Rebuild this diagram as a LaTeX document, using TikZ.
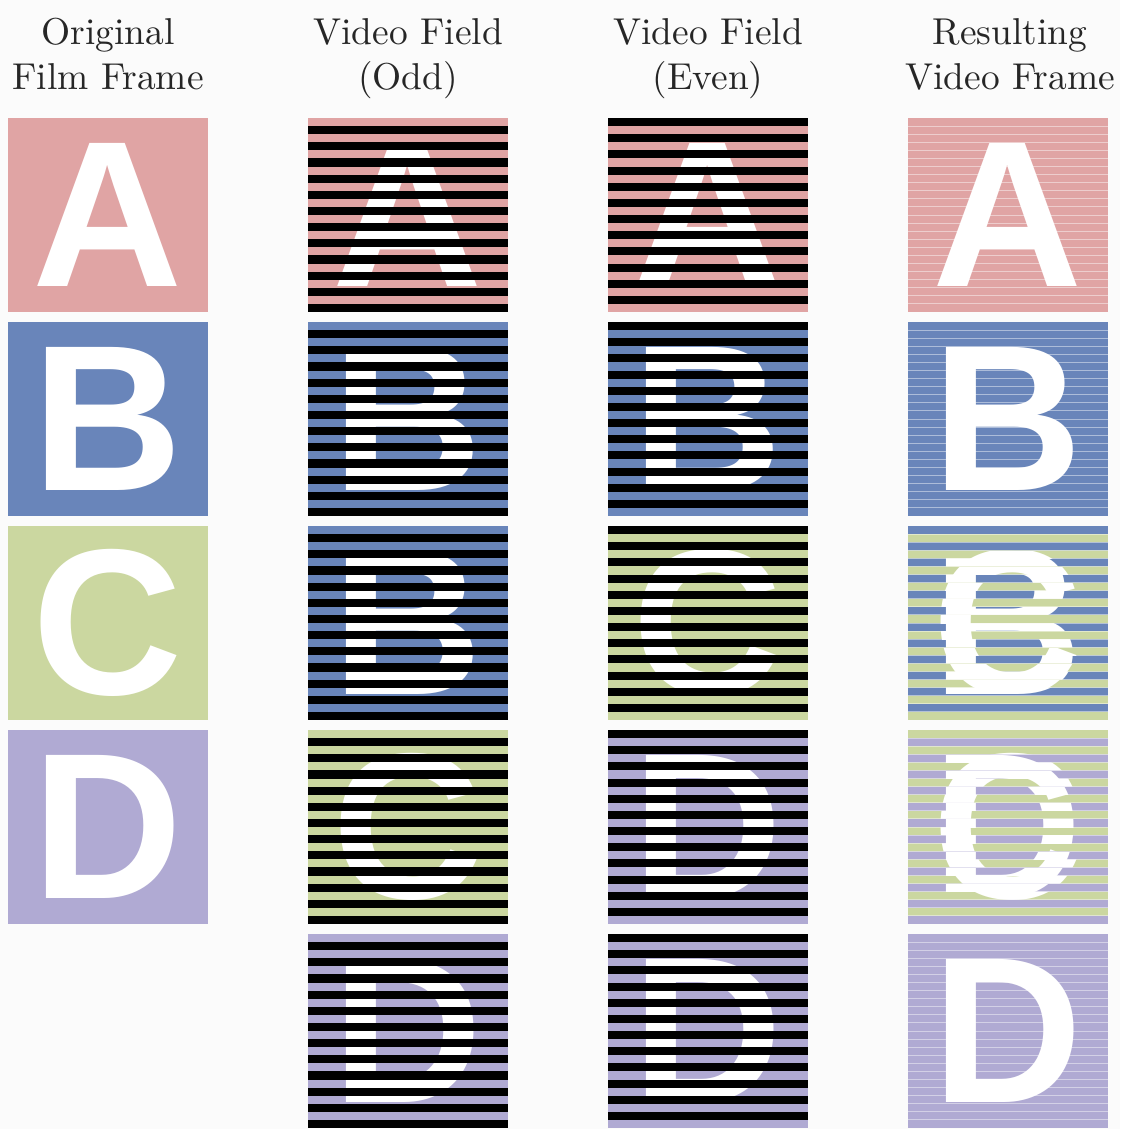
\documentclass[tikz,border=0pt]{standalone}
\usepackage{fontspec}
\newfontfamily\tilefont{Liberation Sans}
\definecolor{bgGray}{RGB}{251,251,251}
\definecolor{filmPink}{RGB}{224,164,164}
\definecolor{filmBlue}{RGB}{105,133,186}
\definecolor{filmGreen}{RGB}{203,215,160}
\definecolor{filmLilac}{RGB}{176,170,211}
\begin{document}
\begin{tikzpicture}[x=0.5pt,y=-0.5pt,
    tile/.style={minimum width=100pt,minimum height=97pt,inner sep=0pt,outer sep=0pt,
      text=white,font=\tilefont\bfseries\fontsize{104}{104}\selectfont},
    head/.style={align=center,anchor=north,text=black!85,
      font=\fontsize{10}{12}\selectfont,scale=1.87},
    scan/.style={white,opacity=0.45,line width=0.5pt}]
  \useasboundingbox[fill=bgGray] (0,0) rectangle (1120,1129);
  % column headings
  \node[head] (hfilm) at (108,5) {Original\\Film Frame};
  \node[head] (hodd) at (408,5) {Video Field\\(Odd)};
  \node[head] (heven) at (708,5) {Video Field\\(Even)};
  \node[head] (hres) at (1010,5) {Resulting\\Video Frame};
  % original film frames
  \foreach \r/\l/\c in {1/A/filmPink,2/B/filmBlue,3/C/filmGreen,4/D/filmLilac}
    \node[tile,fill=\c] (film\r) at (108,{11+204*\r}) {\l};
  % odd field: black on even lines
  \foreach \r/\l/\c in {1/A/filmPink,2/B/filmBlue,3/B/filmBlue,4/C/filmGreen,5/D/filmLilac}{
    \node[tile,fill=\c] (odd\r) at (408,{11+204*\r}) {\l};
    \begin{scope}[shift={(odd\r.north west)}]
      \foreach \k in {0,...,11}
        \fill[black] (0,{(2*\k+1)*8.0833}) rectangle ++(200,8.0833);
    \end{scope}
  }
  % even field: black on odd lines
  \foreach \r/\l/\c in {1/A/filmPink,2/B/filmBlue,3/C/filmGreen,4/D/filmLilac,5/D/filmLilac}{
    \node[tile,fill=\c] (even\r) at (708,{11+204*\r}) {\l};
    \begin{scope}[shift={(even\r.north west)}]
      \foreach \k in {0,...,11}
        \fill[black] (0,{2*\k*8.0833}) rectangle ++(200,8.0833);
    \end{scope}
  }
  % resulting video frames
  \foreach \r/\l/\c in {1/A/filmPink,2/B/filmBlue,3/B/filmBlue,4/C/filmGreen,5/D/filmLilac}
    \node[tile,fill=\c] (res\r) at (1008,{11+204*\r}) {\l};
  \foreach \r/\l/\c in {3/C/filmGreen,4/D/filmLilac}{
    \begin{scope}[shift={(res\r.north west)}]
      \clip \foreach \k in {0,...,11} {(0,{(2*\k+1)*8.0833}) rectangle ++(200,8.0833)};
      \node[tile,fill=\c] (res\r e) at (100,97) {\l};
    \end{scope}
  }
  \foreach \r in {1,...,5}{
    \begin{scope}[shift={(res\r.north west)}]
      \foreach \k in {1,...,23}
        \draw[scan] (0,{\k*8.0833}) -- (200,{\k*8.0833});
    \end{scope}
  }
\end{tikzpicture}
\end{document}
